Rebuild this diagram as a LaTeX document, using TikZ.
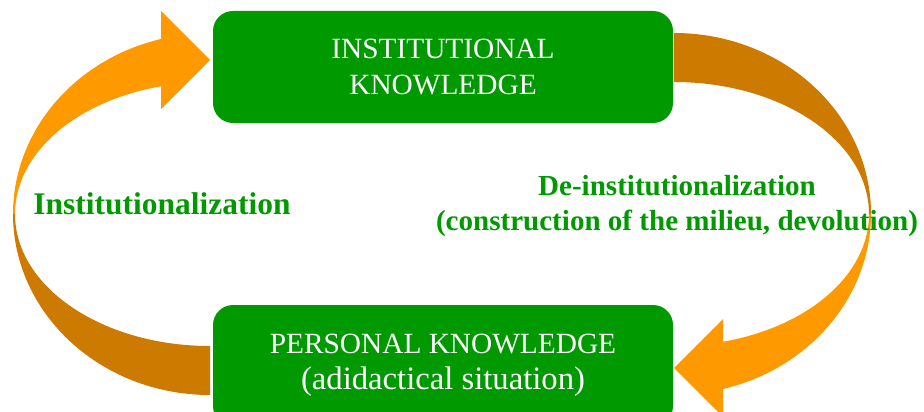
\documentclass[tikz,border=0pt]{standalone}
\usepackage{fontspec}
\setmainfont{Liberation Serif}
\usetikzlibrary{calc, positioning}
\definecolor{cGreen}{RGB}{0,153,0}
\definecolor{cOrange}{RGB}{255,153,0}
\definecolor{cDarkOrange}{RGB}{204,122,0}
\tikzset{
  kbox/.style={rectangle, rounded corners=15pt, fill=cGreen, text=white,
               align=center, minimum width=345pt, inner sep=0pt,
               font=\fontsize{22}{27}\selectfont},
  lbl/.style={text=cGreen, align=center, inner sep=0pt,
              font=\bfseries\fontsize{23.6}{26.25}\selectfont},
  lblsmall/.style={lbl, font=\bfseries\fontsize{21.8}{26.25}\selectfont},
}

\begin{document}
\begin{tikzpicture}[x=0.75pt, y=0.75pt]
\useasboundingbox (0,0) rectangle (924,411);
\clip (0,0) rectangle (924,411);

%% ============================================================
%% KNOWLEDGE BOXES
%% ============================================================
\node[kbox, minimum height=84pt]    (inst) at (443,344)
  {INSTITUTIONAL\\KNOWLEDGE};
\node[kbox, minimum height=90.75pt] (pers) at (443,45.5)
  {PERSONAL KNOWLEDGE\\{\fontsize{24.5}{27}\selectfont (adidactical situation)}};

%% ============================================================
%% CYCLE ARROWS  (left one, then the same turned by 180)
%% ============================================================
\foreach \r in {0,180}{
  \begin{scope}[rotate around={\r:(442,197)}]
    % upper half with the head
    \fill[cOrange] (161,325) -- (161,302) -- (210,351) -- (161,400) -- (161,372)
      arc[start angle=104.4, end angle=180, x radius=197, y radius=181]
      -- (15,197)
      arc[start angle=180, end angle=104.6, x radius=195, y radius=132]
      -- cycle;
    % lower half, darker
    \fill[cDarkOrange] (13,197)
      arc[start angle=180, end angle=270, x radius=197, y radius=181]
      -- (210,65)
      arc[start angle=270, end angle=180, x radius=195, y radius=132]
      -- cycle;
  \end{scope}
}

%% ============================================================
%% LABELS
%% ============================================================
\node[lbl, anchor=base] (instz) at (162,196) {Institutionalization};
\node[lblsmall] (deinstz) at (677,205)
  {De-institutionalization\\(construction of the milieu, devolution)};

\end{tikzpicture}
\end{document}
